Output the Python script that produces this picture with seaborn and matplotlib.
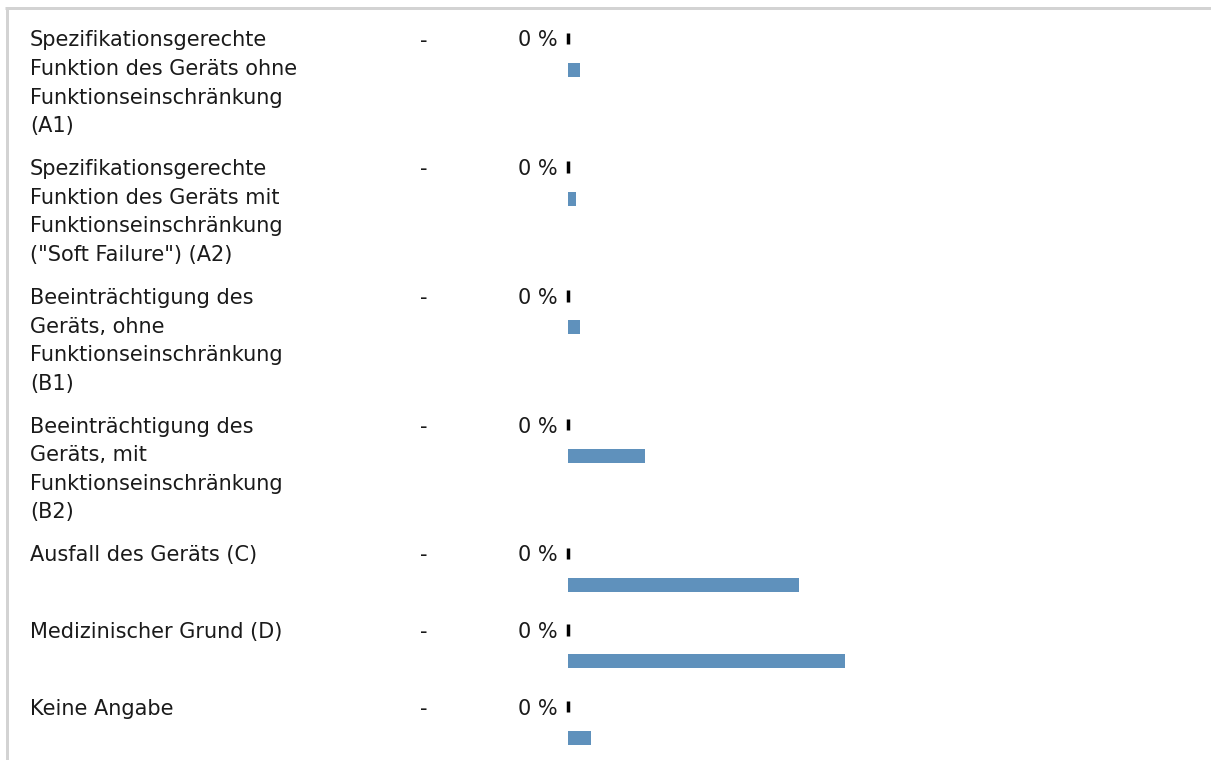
import numpy as np
import pandas as pd
import matplotlib
matplotlib.use("Agg")
import matplotlib.pyplot as plt
from matplotlib.lines import Line2D
import seaborn as sns

# Categories (line breaks as laid out in the table)
categories = [
    "Spezifikationsgerechte\nFunktion des Geräts ohne\nFunktionseinschränkung\n(A1)",
    "Spezifikationsgerechte\nFunktion des Geräts mit\nFunktionseinschränkung\n(\"Soft Failure\") (A2)",
    "Beeinträchtigung des\nGeräts, ohne\nFunktionseinschränkung\n(B1)",
    "Beeinträchtigung des\nGeräts, mit\nFunktionseinschränkung\n(B2)",
    "Ausfall des Geräts (C)",
    "Medizinischer Grund (D)",
    "Keine Angabe",
]
# Count column (no entries) and the share of the current period in percent
counts = ["-", "-", "-", "-", "-", "-", "-"]
current_share = [0, 0, 0, 0, 0, 0, 0]
# Reference distribution in percent
reference_share = [1.9, 1.2, 1.9, 12.0, 36.1, 43.3, 3.6]

W, H, DPI = 1211, 760, 100
TEXT = "#1a1a1a"
BLUE = "#5f91bc"
FONT = 15

sns.set_theme(style="white")
plt.rcParams["font.family"] = ["DejaVu Sans"]

fig = plt.figure(figsize=(W / DPI, H / DPI), dpi=DPI)
ax = fig.add_axes([0, 0, 1, 1])

# x axis: percent, with 0 % at the bar origin; y axis: pixel rows, top to bottom
origin_px = 568
px_per_pct = 6.4

def px2x(px):
    return (px - origin_px) / px_per_pct

# Row layout derived from the number of text lines per category
line_px = 28.6
first_center = 38.5
row_pad = 14.3
min_row = 76.6
n_lines = [c.count("\n") + 1 for c in categories]
row_h = [max(n * line_px + row_pad, min_row) for n in n_lines]
tick_y = first_center + np.concatenate([[0], np.cumsum(row_h[:-1])])
bar_y = tick_y + 31.5

df = pd.DataFrame({
    "category": categories,
    "current": current_share,
    "reference": reference_share,
    "tick_y": tick_y,
    "bar_y": bar_y,
})

native_w = np.min(np.diff(np.unique(df["bar_y"])))
native_w_t = np.min(np.diff(np.unique(df["tick_y"])))

# Reference distribution bars
sns.barplot(data=df, x="reference", y="bar_y", orient="y", native_scale=True,
            width=14 / native_w, color=BLUE, saturation=1, linewidth=0,
            errorbar=None, ax=ax)
# Current-period bars (0 %) drawn as thin black markers
sns.barplot(data=df, x="current", y="tick_y", orient="y", native_scale=True,
            width=11.5 / native_w_t, color="black", saturation=1,
            edgecolor="black", linewidth=2.5, errorbar=None, ax=ax)

ax.set_xlim(px2x(0), px2x(W))
ax.set_ylim(H, 0)
ax.axis("off")

# Table text
for i, row in df.iterrows():
    lines = row["category"].split("\n")
    for k, ln in enumerate(lines):
        ax.text(px2x(30), row["tick_y"] + 8 + k * line_px, ln, ha="left",
                va="baseline", fontsize=FONT, color=TEXT)
    ax.text(px2x(424), row["tick_y"] + 8, counts[i], ha="center",
            va="baseline", fontsize=FONT, color=TEXT)
    ax.text(px2x(558), row["tick_y"] + 8, f"{row['current']:.0f} %",
            ha="right", va="baseline", fontsize=FONT, color=TEXT)

# Panel border on top and left
lw = 3 * 72 / DPI
fig.add_artist(Line2D([5 / W, 1], [1 - 8 / H, 1 - 8 / H], transform=fig.transFigure,
                      color="#d3d3d3", lw=lw, solid_capstyle="butt"))
fig.add_artist(Line2D([7 / W, 7 / W], [1 - 6.5 / H, 0], transform=fig.transFigure,
                      color="#d3d3d3", lw=lw, solid_capstyle="butt"))

fig.savefig("out.png", dpi=DPI, facecolor="white")
